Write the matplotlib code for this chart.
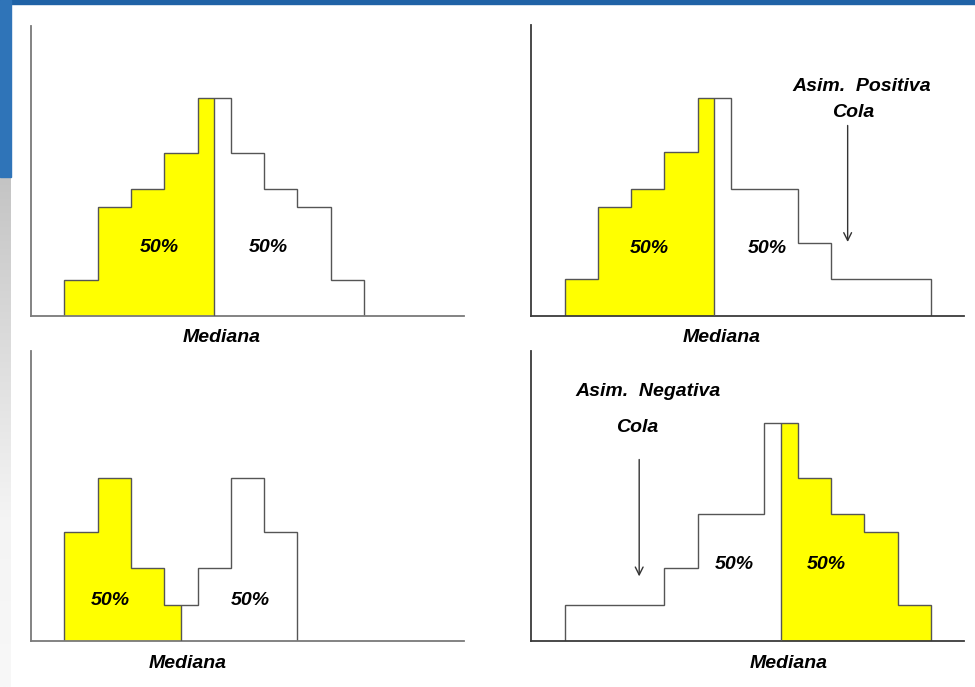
import numpy as np
import matplotlib
matplotlib.use("Agg")
import matplotlib.pyplot as plt
from matplotlib.patches import Rectangle

# Step-histogram definitions (bin edges, bin heights, median) for the four shapes
sym_edges = [1, 2, 3, 4, 5, 6, 7, 8, 9, 10]
sym_heights = [1, 3, 3.5, 4.5, 6, 4.5, 3.5, 3, 1]
sym_median = 5.5

pos_edges = [1, 2, 3, 4, 5, 6, 8, 9, 12]
pos_heights = [1, 3, 3.5, 4.5, 6, 3.5, 2, 1]
pos_median = 5.5

bim_edges = [1, 2, 3, 4, 5, 6, 7, 8]
bim_heights = [3, 4.5, 2, 1, 2, 4.5, 3]
bim_median = 4.5

neg_edges = [1, 4, 5, 7, 8, 9, 10, 11, 12]
neg_heights = [1, 2, 3.5, 6, 4.5, 3.5, 3, 1]
neg_median = 7.5

half_label = "50%"
median_label = "Mediana"

YELLOW = "#ffff00"
FONT = dict(family=["Liberation Sans", "DejaVu Sans"], weight="bold",
            style="italic", fontsize=14, color="black")
DY = -0.07  # small downward nudge for all text


def clip_steps(edges, heights, lo, hi):
    """Restrict a step histogram to the interval [lo, hi]."""
    e = np.asarray(edges, float)
    h = np.asarray(heights, float)
    new_e, new_h = [], []
    for i in range(len(h)):
        a, b = max(e[i], lo), min(e[i + 1], hi)
        if b > a:
            if not new_e:
                new_e.append(a)
            new_e.append(b)
            new_h.append(h[i])
    return new_e, new_h


fig = plt.figure(figsize=(9.75, 6.87), dpi=100)
fig.patch.set_facecolor("white")

# slide decoration: blue top bar and left strip with grey fade below
fig.patches.append(Rectangle((0, 1 - 4 / 687), 1, 4 / 687, transform=fig.transFigure,
                             color="#1f62a6", zorder=0))
fig.patches.append(Rectangle((0, 1 - 177 / 687), 11 / 975, 177 / 687,
                             transform=fig.transFigure, color="#2f74b8", zorder=0))
grad = np.linspace(0, 1, 256).reshape(-1, 1)
gax = fig.add_axes([0, 0, 11 / 975, 1 - 177 / 687])
gax.imshow(grad, aspect="auto", cmap=matplotlib.colors.LinearSegmentedColormap.from_list(
    "fade", ["#f8f8f8", "#f4f4f4", "#dcdcdc", "#c4c4c4"]), origin="lower",
    extent=[0, 1, 0, 1])
gax.axis("off")

panels = [
    dict(x0=31, base=316, edges=sym_edges, h=sym_heights, med=sym_median, side="left",
         axc="#7a7a7a", lab=[(3.87, 1.96), (7.12, 1.96)], medx=5.74, medy=-0.52),
    dict(x0=531.3, base=315.7, edges=pos_edges, h=pos_heights, med=pos_median, side="left",
         axc="#3a3a3a", lab=[(3.56, 1.92), (7.09, 1.92)], medx=5.72, medy=-0.53),
    dict(x0=31, base=641, edges=bim_edges, h=bim_heights, med=bim_median, side="left",
         axc="#7a7a7a", lab=[(2.37, 1.19), (6.6, 1.19)], medx=4.71, medy=-0.55),
    dict(x0=531.3, base=641, edges=neg_edges, h=neg_heights, med=neg_median, side="right",
         axc="#3a3a3a", lab=[(6.1, 2.19), (8.85, 2.19)], medx=7.72, medy=-0.55),
]

W, H = 975, 687
unit_x, unit_y = 33.3, 36.3
axes = []
for p in panels:
    ax = fig.add_axes([p["x0"] / W, (H - p["base"]) / H, 13 * unit_x / W, 8 * unit_y / H])
    ax.set_xlim(0, 13)
    ax.set_ylim(0, 8)
    ax.set_facecolor("none")
    for s in ("top", "right"):
        ax.spines[s].set_visible(False)
    for s in ("left", "bottom"):
        ax.spines[s].set_color(p["axc"])
        ax.spines[s].set_linewidth(1.3)
    ax.set_xticks([])
    ax.set_yticks([])

    e, h = p["edges"], p["h"]
    if p["side"] == "left":
        ye, yh = clip_steps(e, h, e[0], p["med"])
    else:
        ye, yh = clip_steps(e, h, p["med"], e[-1])
    ax.stairs(yh, ye, baseline=0, fill=True, facecolor=YELLOW, edgecolor="none", zorder=1)
    # median divider
    idx = np.searchsorted(e, p["med"]) - 1
    ax.vlines(p["med"], 0, h[idx], color="#555555", lw=1.0, zorder=3)
    ax.stairs(h, e, baseline=0, fill=False, color="#555555", lw=1.0, zorder=2)

    for (tx, ty) in p["lab"]:
        ax.text(tx, ty + DY, half_label, ha="center", va="center", **FONT)
    ax.text(p["medx"], p["medy"] + DY, median_label, ha="center", va="center",
            clip_on=False, **FONT)
    axes.append(ax)

# tail annotations
ax_pos, ax_neg = axes[1], axes[3]
ax_pos.text(9.92, 6.39 + DY, "Asim.  Positiva", ha="center", va="center", **FONT)
ax_pos.text(9.66, 5.66 + DY, "Cola", ha="center", va="center", **FONT)
ax_pos.annotate("", xy=(9.5, 2.03), xytext=(9.5, 5.24),
                arrowprops=dict(arrowstyle="->", color="#333333", lw=1.0,
                                mutation_scale=14, shrinkA=0, shrinkB=0))

ax_neg.text(3.51, 6.93 + DY, "Asim.  Negativa", ha="center", va="center", **FONT)
ax_neg.text(3.17, 5.95 + DY, "Cola", ha="center", va="center", **FONT)
ax_neg.annotate("", xy=(3.24, 1.78), xytext=(3.24, 5.0),
                arrowprops=dict(arrowstyle="->", color="#333333", lw=1.0,
                                mutation_scale=14, shrinkA=0, shrinkB=0))

fig.savefig("out.png", dpi=100, facecolor="white")
